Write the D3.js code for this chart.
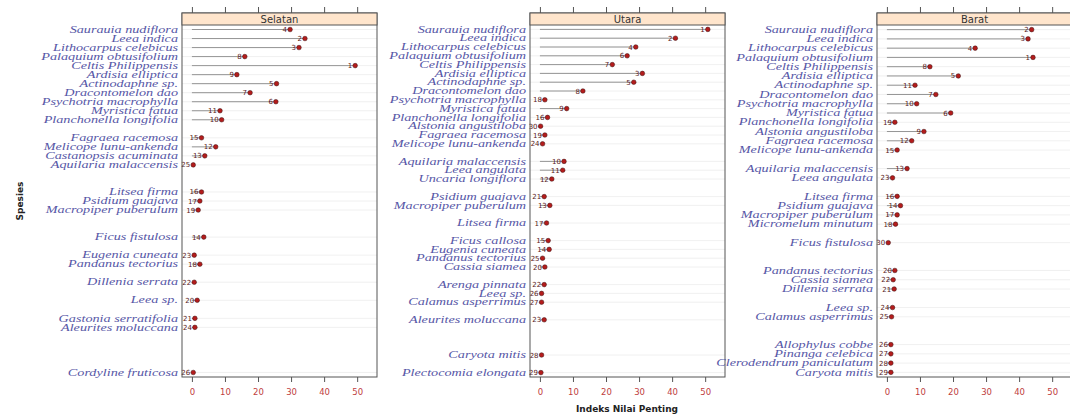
<!DOCTYPE html>
<html>
<head>
<meta charset="utf-8">
<script src="https://cdn.jsdelivr.net/npm/d3@7"></script>
<style>
  body { margin: 0; background: #fff; }
  svg { display: block; }
</style>
</head>
<body>
<svg width="1070" height="416"></svg>
<script>
// panel names
var panelNames = ["Selatan", "Utara", "Barat"];

// Selatan: species per row ("" = empty row), values and rank labels
var selatanSpecies = ["Saurauia nudiflora", "Leea indica", "Lithocarpus celebicus", "Palaquium obtusifolium",
  "Celtis Philippensis", "Ardisia elliptica", "Actinodaphne sp.", "Dracontomelon dao", "Psychotria macrophylla",
  "Myristica fatua", "Planchonella longifolia", "", "Fagraea racemosa", "Melicope lunu-ankenda",
  "Castanopsis acuminata", "Aquilaria malaccensis", "", "", "Litsea firma", "Psidium guajava",
  "Macropiper puberulum", "", "", "Ficus fistulosa", "", "Eugenia cuneata", "Pandanus tectorius", "",
  "Dillenia serrata", "", "Leea sp.", "", "Gastonia serratifolia", "Aleurites moluccana", "", "", "", "",
  "Cordyline fruticosa"];
var selatanValues = [29.7, 34.2, 32.4, 16.0, 49.4, 13.6, 25.6, 17.6, 25.4, 8.5, 9.0, null, 2.9, 7.2,
  3.9, 0.4, null, null, 2.9, 2.4, 1.9, null, null, 3.6, null, 0.7, 2.4, null, 0.7, null, 1.6, null,
  0.9, 0.9, null, null, null, null, 0.4];
var selatanRanks = [4, 2, 3, 8, 1, 9, 5, 7, 6, 11, 10, null, 15, 12, 13, 25, null, null, 16, 17, 19,
  null, null, 14, null, 23, 18, null, 22, null, 20, null, 21, 24, null, null, null, null, 26];

// Utara
var utaraSpecies = ["Saurauia nudiflora", "Leea indica", "Lithocarpus celebicus", "Palaquium obtusifolium",
  "Celtis Philippensis", "Ardisia elliptica", "Actinodaphne sp.", "Dracontomelon dao", "Psychotria macrophylla",
  "Myristica fatua", "Planchonella longifolia", "Alstonia angustiloba", "Fagraea racemosa",
  "Melicope lunu-ankenda", "", "Aquilaria malaccensis", "Leea angulata", "Uncaria longiflora", "",
  "Psidium guajava", "Macropiper puberulum", "", "Litsea firma", "", "Ficus callosa", "Eugenia cuneata",
  "Pandanus tectorius", "Cassia siamea", "", "Arenga pinnata", "Leea sp.", "Calamus asperrimus", "",
  "Aleurites moluccana", "", "", "", "Caryota mitis", "", "Plectocomia elongata"];
var utaraValues = [50.8, 41.0, 29.0, 26.4, 21.9, 31.0, 28.4, 13.0, 1.5, 8.1, 2.3, 0.2, 1.5, 0.8, null,
  7.3, 6.9, 3.6, null, 1.3, 3.0, null, 2.0, null, 2.5, 2.8, 0.8, 1.5, null, 1.3, 0.5, 0.5, null, 1.3,
  null, null, null, 0.5, null, 0.3];
var utaraRanks = [1, 2, 4, 6, 7, 3, 5, 8, 18, 9, 16, 30, 19, 24, null, 10, 11, 12, null, 21, 13, null,
  17, null, 15, 14, 25, 20, null, 22, 26, 27, null, 23, null, null, null, 28, null, 29];

// Barat
var baratSpecies = ["Saurauia nudiflora", "Leea indica", "Lithocarpus celebicus", "Palaquium obtusifolium",
  "Celtis Philippensis", "Ardisia elliptica", "Actinodaphne sp.", "Dracontomelon dao", "Psychotria macrophylla",
  "Myristica fatua", "Planchonella longifolia", "Alstonia angustiloba", "Fagraea racemosa",
  "Melicope lunu-ankenda", "", "Aquilaria malaccensis", "Leea angulata", "", "Litsea firma",
  "Psidium guajava", "Macropiper puberulum", "Micromelum minutum", "", "Ficus fistulosa", "", "",
  "Pandanus tectorius", "Cassia siamea", "Dillenia serrata", "", "Leea sp.", "Calamus asperrimus", "", "",
  "Allophylus cobbe", "Pinanga celebica", "Clerodendrum paniculatum", "Caryota mitis"];
var baratValues = [43.8, 42.7, 26.7, 44.2, 13.0, 21.6, 8.5, 14.8, 9.0, 19.3, 2.4, 11.2, 7.5, 3.1, null,
  6.1, 1.7, null, 3.1, 4.1, 3.1, 2.6, null, 0.4, null, null, 2.4, 1.9, 2.2, null, 1.7, 1.4, null, null,
  1.2, 1.2, 1.2, 1.2];
var baratRanks = [2, 3, 4, 1, 8, 5, 11, 7, 10, 6, 19, 9, 12, 15, null, 13, 23, null, 16, 14, 17, 18,
  null, 30, null, null, 20, 22, 21, null, 24, 25, null, null, 26, 27, 28, 29];

// x ticks
var xTicks = [0, 10, 20, 30, 40, 50];

var svg = d3.select("svg");

var panelLeft = [182, 530, 877];
var panelW = 195;
var panelTop = 13, stripH = 12, panelBottom = 377;

var species = [selatanSpecies, utaraSpecies, baratSpecies];
var values = [selatanValues, utaraValues, baratValues];
var ranks = [selatanRanks, utaraRanks, baratRanks];

for (var p = 0; p < 3; p++) {
  var g = svg.append("g");
  var x = d3.scaleLinear().domain([-3, 56]).range([panelLeft[p], panelLeft[p] + panelW]);
  var y = d3.scalePoint()
    .domain(d3.range(species[p].length))
    .range([panelTop + stripH, panelBottom])
    .padding(0.5);

  var rows = species[p].map(function(s, i) {
    return { name: s, value: values[p][i], rank: ranks[p][i], i: i };
  });
  var filled = rows.filter(function(d) { return d.value !== null; });

  // faint reference lines
  g.selectAll(".ref").data(filled).enter().append("line")
    .attr("x1", panelLeft[p]).attr("x2", panelLeft[p] + panelW)
    .attr("y1", function(d) { return y(d.i); }).attr("y2", function(d) { return y(d.i); })
    .style("stroke", "#ececec").style("stroke-width", 0.8);

  // segments from 0
  g.selectAll(".seg").data(filled).enter().append("line")
    .attr("x1", x(0)).attr("x2", function(d) { return x(d.value); })
    .attr("y1", function(d) { return y(d.i); }).attr("y2", function(d) { return y(d.i); })
    .style("stroke", "#8a8a8a").style("stroke-width", 0.9);

  // rank labels
  g.selectAll(".rk").data(filled).enter().append("text")
    .attr("x", function(d) { return x(d.value) - 3; })
    .attr("y", function(d) { return y(d.i) + 2.5; })
    .attr("text-anchor", "end")
    .style("font-family", "DejaVu Sans, sans-serif")
    .style("font-size", "7px")
    .style("fill", "#5a1a1a")
    .text(function(d) { return d.rank; });

  // points
  g.selectAll(".pt").data(filled).enter().append("circle")
    .attr("cx", function(d) { return x(d.value); })
    .attr("cy", function(d) { return y(d.i); })
    .attr("r", 2.3)
    .style("fill", "#b41c1c")
    .style("stroke", "#3a1010")
    .style("stroke-width", 0.5);

  // species labels (stretched horizontally like the reference)
  var lx = panelLeft[p] - 4;
  g.selectAll(".lab").data(filled).enter().append("text")
    .attr("transform", function(d) { return "translate(" + lx + "," + (y(d.i) + 3.2) + ") scale(1.42,1)"; })
    .attr("text-anchor", "end")
    .style("font-family", "Liberation Serif, serif")
    .style("font-style", "italic")
    .style("font-size", "10px")
    .style("fill", "#5656a6")
    .text(function(d) { return d.name; });

  // panel border
  g.append("rect")
    .attr("x", panelLeft[p]).attr("y", panelTop)
    .attr("width", panelW).attr("height", panelBottom - panelTop)
    .style("fill", "none").style("stroke", "#555").style("stroke-width", 1);

  // strip
  g.append("rect")
    .attr("x", panelLeft[p]).attr("y", panelTop)
    .attr("width", panelW).attr("height", stripH)
    .style("fill", "#ffe5cc").style("stroke", "#555").style("stroke-width", 1);
  g.append("text")
    .attr("x", panelLeft[p] + panelW / 2).attr("y", panelTop + 10)
    .attr("text-anchor", "middle")
    .style("font-family", "DejaVu Sans, sans-serif")
    .style("font-size", "10px")
    .style("fill", "#333")
    .text(panelNames[p]);

  // top ticks
  var topAxis = g.append("g")
    .attr("transform", "translate(0," + panelTop + ")")
    .call(d3.axisTop(x).tickValues(xTicks).tickSize(6).tickSizeOuter(0).tickFormat(""));
  topAxis.select(".domain").remove();
  topAxis.selectAll("line").style("stroke", "#555");

  // bottom axis
  var botAxis = g.append("g")
    .attr("transform", "translate(0," + panelBottom + ")")
    .call(d3.axisBottom(x).tickValues(xTicks).tickSize(5).tickSizeOuter(0).tickPadding(7));
  botAxis.select(".domain").remove();
  botAxis.selectAll("line").style("stroke", "#555");
  botAxis.selectAll("text")
    .style("font-family", "DejaVu Sans, sans-serif")
    .style("font-size", "8.5px")
    .style("fill", "#c04040");
}

// axis titles
svg.append("text")
  .attr("x", 627).attr("y", 412)
  .attr("text-anchor", "middle")
  .style("font-family", "DejaVu Sans, sans-serif")
  .style("font-size", "9px")
  .style("font-weight", "bold")
  .style("fill", "#222")
  .text("Indeks Nilai Penting");

svg.append("text")
  .attr("transform", "translate(23,201) rotate(-90)")
  .attr("text-anchor", "middle")
  .style("font-family", "DejaVu Sans, sans-serif")
  .style("font-size", "9px")
  .style("font-weight", "bold")
  .style("fill", "#222")
  .text("Spesies");
</script>
</body>
</html>
